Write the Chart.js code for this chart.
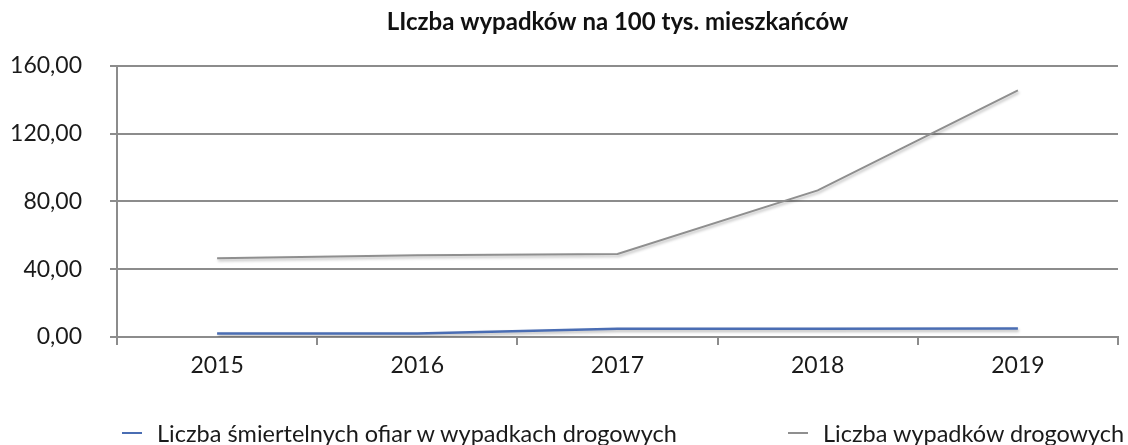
<!DOCTYPE html>
<html lang="pl">
<head>
<meta charset="utf-8">
<script src="https://cdn.jsdelivr.net/npm/chart.js@4/dist/chart.umd.min.js"></script>
<style>
  html, body { margin: 0; padding: 0; background: #fff; overflow: hidden; }
  #wrap { position: relative; width: 1128px; height: 445px; overflow: hidden; }
  #chart { position: absolute; left: 0; top: 0; }
  .legend-item {
    position: absolute; top: 419px; height: 28px;
    font-family: Lato, "Open Sans", sans-serif; font-size: 23.5px; color: #1a1a1a;
    display: flex; align-items: center; white-space: nowrap;
  }
  .legend-item .swatch { width: 20px; height: 2.5px; margin-right: 15px; }
</style>
</head>
<body>
<div id="wrap">
  <canvas id="chart" width="1128" height="445"></canvas>
  <div id="legend"></div>
</div>
<script>
// lata
const years = ['2015', '2016', '2017', '2018', '2019'];
// liczba śmiertelnych ofiar na 100 tys. mieszkańców
const fatalities = [2.1, 2.1, 4.9, 4.9, 5.0];
// liczba wypadków drogowych na 100 tys. mieszkańców
const accidents = [46.5, 48.3, 49.0, 86.5, 145.5];
const yTicks = [0, 40, 80, 120, 160];

const seriesNames = [
    'Liczba śmiertelnych ofiar w wypadkach drogowych',
    'Liczba wypadków drogowych'
];
const seriesColors = ['#4a6db3', '#8f8f8f'];
const legendLeft = [122, 788];

const axisColor = '#8c8c8c';
const font = 'Lato, "Open Sans", sans-serif';

// lekki cień pod liniami
const lineShadow = {
    id: 'lineShadow',
    beforeDatasetDraw(chart) {
        const ctx = chart.ctx;
        ctx.save();
        ctx.shadowColor = 'rgba(0,0,0,0.28)';
        ctx.shadowBlur = 3;
        ctx.shadowOffsetX = 1;
        ctx.shadowOffsetY = 2;
    },
    afterDatasetDraw(chart) {
        chart.ctx.restore();
    }
};

const chart = new Chart(document.getElementById('chart'), {
    type: 'line',
    data: {
        labels: years,
        datasets: [
            {
                label: seriesNames[0],
                data: fatalities,
                borderColor: seriesColors[0],
                borderWidth: 2.5,
                pointRadius: 0,
                tension: 0
            },
            {
                label: seriesNames[1],
                data: accidents,
                borderColor: seriesColors[1],
                borderWidth: 2,
                pointRadius: 0,
                tension: 0
            }
        ]
    },
    options: {
        responsive: false,
        animation: false,
        layout: { padding: { top: 0, right: 10, bottom: 68, left: 0 } },
        plugins: {
            legend: { display: false },
            tooltip: { enabled: false },
            title: {
                display: true,
                fullSize: false,
                text: 'LIczba wypadków na 100 tys. mieszkańców',
                color: '#111',
                font: { family: font, size: 24, weight: 'bold' },
                padding: { top: 8, bottom: 29 }
            }
        },
        scales: {
            x: {
                offset: true,
                grid: {
                    offset: true,
                    drawOnChartArea: false,
                    color: axisColor,
                    lineWidth: 2,
                    tickLength: 8
                },
                border: { color: axisColor, width: 2 },
                ticks: {
                    color: '#1a1a1a',
                    font: { family: font, size: 23 },
                    padding: 7
                },
                afterFit(scale) { scale.height = 40; }
            },
            y: {
                min: 0,
                max: 160,
                afterBuildTicks(scale) {
                    scale.ticks = yTicks.map(v => ({ value: v }));
                },
                grid: {
                    color: axisColor,
                    lineWidth: 2,
                    tickLength: 7
                },
                border: { color: axisColor, width: 2 },
                ticks: {
                    color: '#1a1a1a',
                    font: { family: font, size: 23 },
                    padding: 28,
                    callback: v => v.toFixed(2).replace('.', ',')
                },
                afterFit(scale) { scale.width = 117; }
            }
        }
    },
    plugins: [lineShadow]
});

// legenda pod wykresem
const legend = document.getElementById('legend');
legend.innerHTML = seriesNames.map((name, i) => `
    <div class="legend-item" style="left:${legendLeft[i]}px">
        <span class="swatch" style="background:${seriesColors[i]}"></span>${name}
    </div>
`).join('');
</script>
</body>
</html>
